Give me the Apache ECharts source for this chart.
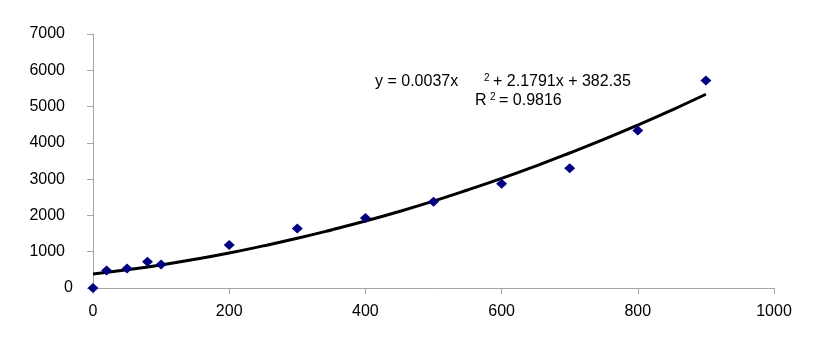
<!DOCTYPE html>
<html>
<head>
<meta charset="utf-8">
<script src="https://cdn.jsdelivr.net/npm/echarts@6/dist/echarts.min.js"></script>
<style>
html, body { margin: 0; padding: 0; background: #fff; }
#chart { width: 826px; height: 346px; }
</style>
</head>
<body>
<div id="chart"></div>
<script>
// measured points (x, y)
var pointX = [0, 20, 50, 80, 100, 200, 300, 400, 500, 600, 700, 800, 900];
var pointY = [0, 480, 540, 720, 645, 1185, 1640, 1930, 2380, 2875, 3300, 4340, 5720];

// trend line
var trendX = [0, 50, 100, 150, 200, 250, 300, 350, 400, 450, 500, 550, 600, 650, 700, 750, 800, 850, 900];
var trendY = [385, 500, 635, 790, 965, 1160, 1370, 1600, 1845, 2110, 2395, 2700, 3020, 3360, 3720, 4095, 4490, 4905, 5340];

var xTicks = [0, 200, 400, 600, 800, 1000];
var yTicks = [0, 1000, 2000, 3000, 4000, 5000, 6000, 7000];

var font = "'Liberation Sans', Arial, sans-serif";

var scatterData = [];
for (var i = 0; i < pointX.length; i++) {
    scatterData.push([pointX[i], pointY[i]]);
}
var trendData = [];
for (var j = 0; j < trendX.length; j++) {
    trendData.push([trendX[j], trendY[j]]);
}

var myChart = echarts.init(document.getElementById('chart'));

option = {
    backgroundColor: '#fff',
    animation: false,
    grid: {
        left: 93,
        right: 52,
        top: 34,
        bottom: 58
    },
    xAxis: {
        type: 'value',
        min: xTicks[0],
        max: xTicks[xTicks.length - 1],
        interval: 200,
        axisLine: { lineStyle: { color: '#a6a6a6', width: 1 } },
        axisTick: { show: true, length: 6, lineStyle: { color: '#a6a6a6' } },
        splitLine: { show: false },
        axisLabel: {
            color: '#000', fontSize: 16, fontFamily: font, margin: 16,
            formatter: function (v) { return String(v); }
        }
    },
    yAxis: {
        type: 'value',
        min: yTicks[0],
        max: yTicks[yTicks.length - 1],
        interval: 1000,
        axisLine: { show: true, lineStyle: { color: '#a6a6a6', width: 1 } },
        axisTick: { show: true, length: 6, lineStyle: { color: '#a6a6a6' } },
        splitLine: { show: false },
        axisLabel: {
            color: '#000', fontSize: 16, fontFamily: font, margin: 20,
            // excel leaves the lone 0 a bit further right
            formatter: function (v) { return v === 0 ? '{z|0}' : '{n|' + v + '}'; },
            rich: {
                z: { fontSize: 16, fontFamily: font, color: '#000' },
                n: { fontSize: 16, fontFamily: font, color: '#000', padding: [0, 8, 0, 0] }
            }
        }
    },
    graphic: [
        { type: 'text', left: 375, top: 74, style: { text: 'y = 0.0037x', font: '16px ' + font, fill: '#000' } },
        { type: 'text', left: 484, top: 73, style: { text: '2', font: '10px ' + font, fill: '#000' } },
        { type: 'text', left: 493, top: 74, style: { text: '+ 2.1791x + 382.35', font: '16px ' + font, fill: '#000' } },
        { type: 'text', left: 475, top: 93, style: { text: 'R', font: '16px ' + font, fill: '#000' } },
        { type: 'text', left: 490, top: 92, style: { text: '2', font: '10px ' + font, fill: '#000' } },
        { type: 'text', left: 499, top: 93, style: { text: '= 0.9816', font: '16px ' + font, fill: '#000' } }
    ],
    series: [{
        name: 'trend',
        type: 'line',
        data: trendData,
        smooth: true,
        showSymbol: false,
        lineStyle: { color: '#000', width: 3 },
        z: 2
    }, {
        name: 'data',
        type: 'scatter',
        data: scatterData,
        symbol: 'diamond',
        symbolSize: [11, 10],
        itemStyle: { color: '#000080', opacity: 1 },
        z: 3
    }]
};
myChart.setOption(option);
</script>
</body>
</html>
